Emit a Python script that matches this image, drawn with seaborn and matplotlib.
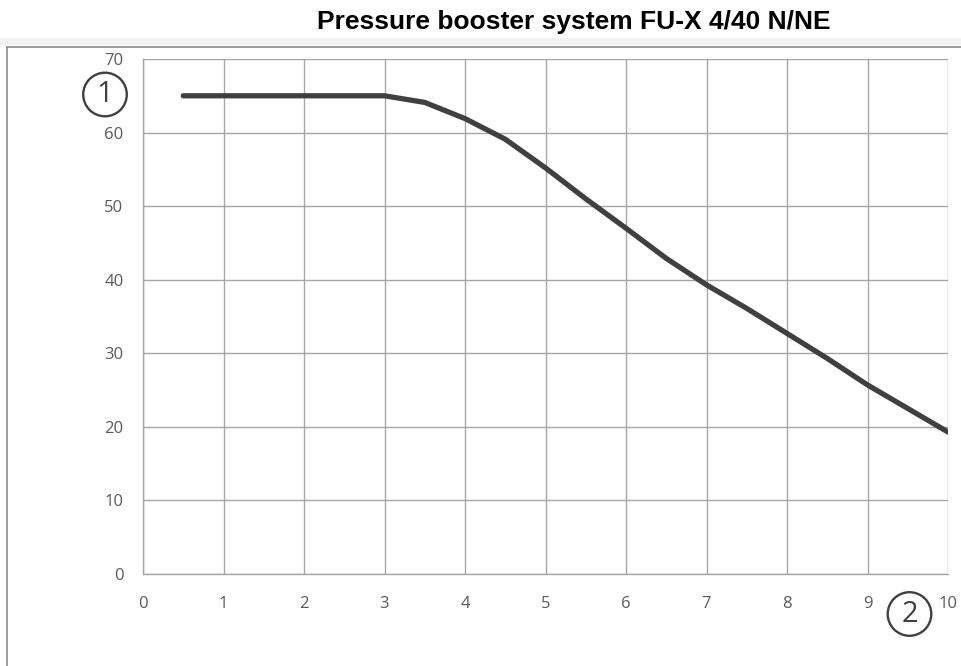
import numpy as np
import matplotlib.pyplot as plt
import seaborn as sns
import pandas as pd
from matplotlib.lines import Line2D
from matplotlib.patches import Rectangle

# Curve
flow = [0.5, 1, 2, 3, 3.5, 4, 4.5, 5, 5.5, 6, 6.5, 7, 7.5, 8, 8.5, 9, 9.5, 10]
head = [65, 65, 65, 65, 64.1, 61.9, 59.1, 55.2, 51.0, 47.0, 42.9, 39.3, 36.1, 32.7, 29.3, 25.7, 22.5, 19.3]
x_ticks = list(range(0, 11))
y_ticks = list(range(0, 71, 10))

df = pd.DataFrame({"flow": flow, "head": head})

sns.set_theme(style="white")
plt.rcParams['font.family'] = ['Open Sans', 'DejaVu Sans']

fig = plt.figure(figsize=(9.62, 6.66), dpi=100)
ax = fig.add_axes([143 / 962, 1 - 574 / 666, (948 - 143) / 962, (574 - 59) / 666])

sns.lineplot(data=df, x="flow", y="head", ax=ax, color='#404040', linewidth=3.8,
             solid_capstyle='round', zorder=3)

ax.set_xlim(0, 10)
ax.set_ylim(0, 70)
ax.set_xticks(x_ticks)
ax.set_yticks(y_ticks)
ax.grid(True, color='#a6a6a6', linewidth=1)
ax.set_xlabel('')
ax.set_ylabel('')
for side in ['top', 'right']:
    ax.spines[side].set_visible(False)
for side in ['left', 'bottom']:
    ax.spines[side].set_color('#a6a6a6')
    ax.spines[side].set_linewidth(1)
ax.tick_params(axis='both', direction='out', length=6, width=1, color='#a6a6a6',
               labelsize=12, labelcolor='#595959', pad=8)
ax.tick_params(axis='x', pad=10)

# circled axis markers
circ = dict(boxstyle='circle,pad=0.25', fc='none', ec='#404040', lw=1.7)
fig.text(105 / 962, 1 - 94.5 / 666, '1', fontsize=21, color='#404040', ha='center',
         va='center', bbox=circ)
fig.text(909.5 / 962, 1 - 614 / 666, '2', fontsize=21, color='#404040', ha='center',
         va='center', bbox=circ)

# title and outer frame
fig.text(574 / 962, 1 - 22.5 / 666, 'Pressure booster system FU-X 4/40 N/NE',
         fontsize=19, fontweight='bold', color='black', ha='center', va='center',
         family='Liberation Sans')
fig.patches.append(Rectangle((0, 1 - 45 / 666), 1, 7 / 666, transform=fig.transFigure,
                             facecolor='#f2f2f2', edgecolor='none'))
fig.lines.append(Line2D([7 / 962, 1], [1 - 47 / 666, 1 - 47 / 666], transform=fig.transFigure,
                        color='#8c8c8c', lw=1.2))
fig.lines.append(Line2D([7 / 962, 7 / 962], [0, 1 - 47 / 666], transform=fig.transFigure,
                        color='#8c8c8c', lw=1.2))

fig.savefig('out.png', dpi=100)
